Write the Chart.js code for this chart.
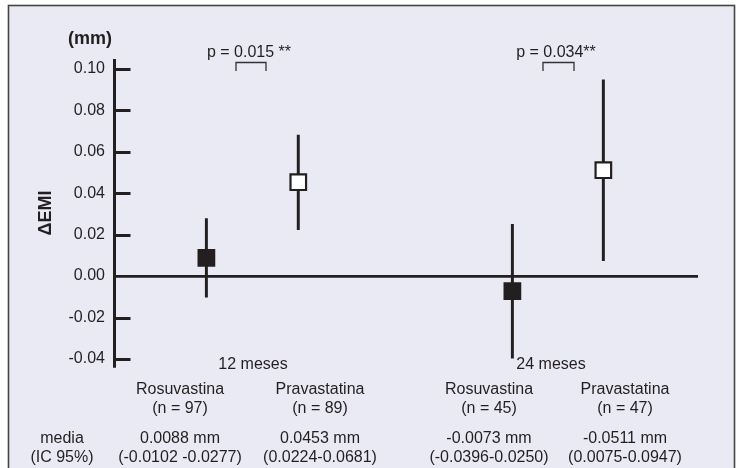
<!DOCTYPE html>
<html>
<head>
<meta charset="utf-8">
<script src="https://cdn.jsdelivr.net/npm/chart.js@4/dist/chart.umd.min.js"></script>
<style>
  html, body { margin: 0; padding: 0; background: #fff; }
  #wrap { width: 741px; height: 468px; }
</style>
</head>
<body>
<div id="wrap"><canvas id="emiChart" width="741" height="468"></canvas></div>
<script>
    // data
    const groups = ["12 meses", "24 meses"];
    const drugs = ["Rosuvastina", "Pravastatina", "Rosuvastina", "Pravastatina"];
    const sampleN = [97, 89, 45, 47];
    const xPos = [1, 2, 4.33, 5.32];
    const means = [0.0088, 0.0453, -0.0073, 0.0511];
    const ciLow = [-0.0102, 0.0224, -0.0396, 0.0075];
    const ciHigh = [0.0277, 0.0681, 0.0250, 0.0947];
    const meanLabels = ["0.0088 mm", "0.0453 mm", "-0.0073 mm", "-0.0511 mm"];
    const ciLabels = ["(-0.0102 -0.0277)", "(0.0224-0.0681)", "(-0.0396-0.0250)", "(0.0075-0.0947)"];
    const pValues = ["p = 0.015 **", "p = 0.034**"];

    const ink = "#231f20";
    const panel = "#eaeaf4";
    const fontFam = "Arial, 'Liberation Sans', sans-serif";

    const decor = {
      id: "decor",
      beforeDraw(chart) {
        const c = chart.ctx;
        c.save();
        c.fillStyle = "#fff";
        c.fillRect(0, 0, chart.width, chart.height);
        c.fillStyle = panel;
        c.fillRect(8, 5, 727, 470);
        c.strokeStyle = "#444";
        c.lineWidth = 1.6;
        c.strokeRect(8.5, 5.5, 726, 480);
        c.restore();
      },
      beforeDatasetsDraw(chart) {
        // tick marks pointing into the plot
        const c = chart.ctx;
        const y = chart.scales.y;
        const left = chart.chartArea.left;
        c.save();
        c.strokeStyle = ink;
        c.lineWidth = 3;
        y.ticks.forEach(t => {
          if (Math.abs(t.value) < 1e-9) return;
          const py = Math.round(y.getPixelForValue(t.value)) + 0.5;
          c.beginPath();
          c.moveTo(left, py);
          c.lineTo(left + 16, py);
          c.stroke();
        });
        c.restore();
      },
      afterDraw(chart) {
        const c = chart.ctx;
        c.save();
        c.fillStyle = ink;
        c.textAlign = "center";
        c.textBaseline = "alphabetic";

        c.font = "bold 18px " + fontFam;
        c.fillText("(mm)", 90, 44);

        c.font = "16px " + fontFam;
        // p-values and brackets
        c.fillText(pValues[0], 249, 57);
        c.fillText(pValues[1], 556, 57);
        c.strokeStyle = "#333";
        c.lineWidth = 1.3;
        [[236, 266], [543, 574]].forEach(([a, b]) => {
          c.beginPath();
          c.moveTo(a, 71);
          c.lineTo(a, 62.5);
          c.lineTo(b, 62.5);
          c.lineTo(b, 71);
          c.stroke();
        });

        // group labels
        c.fillText(groups[0], 253, 369);
        c.fillText(groups[1], 551, 369);

        // per column labels
        const cols = [180, 320, 489, 625];
        cols.forEach((cx, i) => {
          c.fillText(drugs[i], cx, 394);
          c.fillText("(n = " + sampleN[i] + ")", cx, 413);
          c.fillText(meanLabels[i], cx, 443);
          c.fillText(ciLabels[i], cx, 462);
        });
        c.fillText("media", 62, 443);
        c.fillText("(IC 95%)", 62, 462);
        c.restore();
      }
    };

    const ctx = document.getElementById("emiChart").getContext("2d");

    const emiChart = new Chart(ctx, {
      type: "scatter",
      data: {
        datasets: [
          {
            type: "bar",
            label: "IC 95%",
            data: xPos.map((x, i) => ({ x: x, y: [ciLow[i], ciHigh[i]] })),
            backgroundColor: ink,
            barThickness: 2.3,
            borderWidth: 0,
            order: 2
          },
          {
            label: "Rosuvastina",
            data: [0, 2].map(i => ({ x: xPos[i], y: means[i] })),
            pointStyle: "rect",
            pointRadius: 11.5,
            backgroundColor: ink,
            borderColor: ink,
            borderWidth: 1.5,
            order: 1
          },
          {
            label: "Pravastatina",
            data: [1, 3].map(i => ({ x: xPos[i], y: means[i] })),
            pointStyle: "rect",
            pointRadius: 11,
            backgroundColor: "#ffffff",
            borderColor: ink,
            borderWidth: 2.2,
            order: 1
          }
        ]
      },
      options: {
        responsive: false,
        animation: false,
        events: [],
        layout: { padding: { left: 0, top: 60, right: 43, bottom: 102 } },
        plugins: { legend: { display: false }, tooltip: { enabled: false } },
        scales: {
          x: {
            type: "linear",
            min: 0,
            max: 6.35,
            offset: false,
            display: false
          },
          y: {
            type: "linear",
            min: -0.0434,
            max: 0.1043,
            afterFit: s => { s.width = 114.5; },
            border: { display: true, color: ink, width: 3 },
            grid: {
              drawTicks: false,
              lineWidth: 2.7,
              color: c => (c.tick && Math.abs(c.tick.value) < 1e-9) ? ink : "rgba(0,0,0,0)"
            },
            ticks: {
              stepSize: 0.02,
              includeBounds: false,
              padding: 9.5,
              color: ink,
              font: { family: fontFam, size: 16 },
              callback: v => v.toFixed(2)
            },
            title: {
              display: true,
              text: "ΔEMI",
              color: ink,
              font: { family: fontFam, size: 18, weight: "bold" },
              padding: { top: 35, bottom: 0 }
            }
          }
        }
      },
      plugins: [decor]
    });
</script>
</body>
</html>
